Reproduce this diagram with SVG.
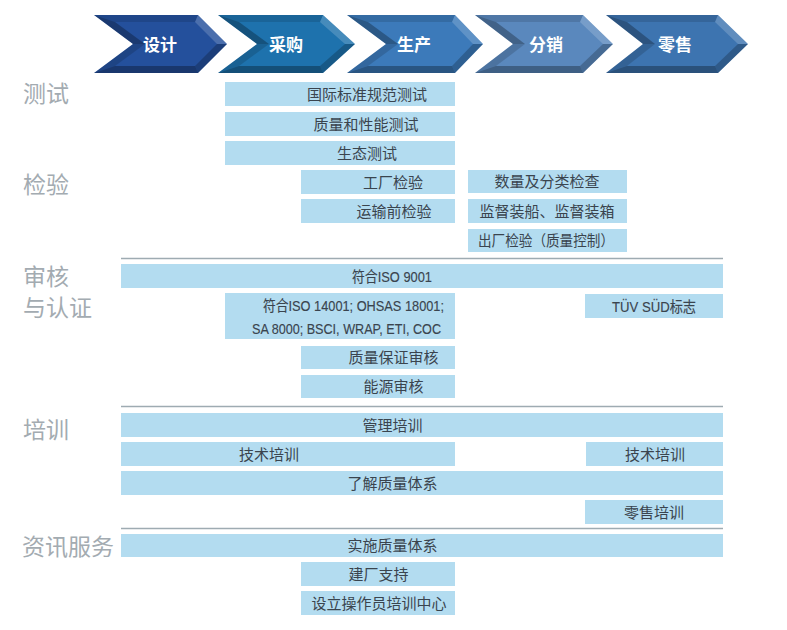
<svg xmlns="http://www.w3.org/2000/svg" width="787" height="630" viewBox="0 0 787 630">
<style>
.bar{fill:#b3dcf0}
.bt{font-family:"Noto Sans CJK SC","Noto Sans",sans-serif;font-size:15px;fill:#3a444e;text-anchor:middle}
.lt{font-family:"Liberation Sans Narrow","Liberation Sans","Noto Sans CJK SC",sans-serif;font-size:15px;fill:#3a444e;stroke:#3a444e;stroke-width:0.15;text-anchor:middle}
.lbl{font-family:"Noto Sans CJK SC","Noto Sans",sans-serif;font-size:23px;fill:#a3abb1}
.sep{stroke:#9eabb2;stroke-width:1.5;fill:none}
.ct{font-family:"Noto Sans CJK SC","Noto Sans",sans-serif;font-size:17px;font-weight:bold;fill:#ffffff;text-anchor:middle}
.dk{fill:#000}
.lg{fill:#fff}
</style>
<rect width="787" height="630" fill="#ffffff"/>

<g id="chevron-design">
<polygon points="94,15 198,15 227,44 198,73 94,73 133,44" fill="#24509c"/>
<polygon class="dk" opacity="0.12" points="94,15 198,15 195,22 115,22"/>
<polygon class="lg" opacity="0.18" points="198,15 227,44 217,44 195,22"/>
<polygon class="dk" opacity="0.22" points="227,44 198,73 195,66 217,44"/>
<polygon class="dk" opacity="0.3" points="198,73 94,73 115,66 195,66"/>
<polygon class="dk" opacity="0.15" points="94,73 133,44 145,44 115,66"/>
<polygon class="dk" opacity="0.28" points="133,44 94,15 115,22 145,44"/>
<text class="ct" x="160" y="51">设计</text>
</g>
<g id="chevron-purchase">
<polygon points="218,15 323,15 355,44 323,73 218,73 257,44" fill="#1e72ad"/>
<polygon class="dk" opacity="0.12" points="218,15 323,15 320,22 239,22"/>
<polygon class="lg" opacity="0.18" points="323,15 355,44 345,44 320,22"/>
<polygon class="dk" opacity="0.22" points="355,44 323,73 320,66 345,44"/>
<polygon class="dk" opacity="0.3" points="323,73 218,73 239,66 320,66"/>
<polygon class="dk" opacity="0.15" points="218,73 257,44 269,44 239,66"/>
<polygon class="dk" opacity="0.28" points="257,44 218,15 239,22 269,44"/>
<text class="ct" x="286" y="51">采购</text>
</g>
<g id="chevron-production">
<polygon points="347,15 455,15 483,44 455,73 347,73 386,44" fill="#3c7aba"/>
<polygon class="dk" opacity="0.12" points="347,15 455,15 452,22 368,22"/>
<polygon class="lg" opacity="0.18" points="455,15 483,44 473,44 452,22"/>
<polygon class="dk" opacity="0.22" points="483,44 455,73 452,66 473,44"/>
<polygon class="dk" opacity="0.3" points="455,73 347,73 368,66 452,66"/>
<polygon class="dk" opacity="0.15" points="347,73 386,44 398,44 368,66"/>
<polygon class="dk" opacity="0.28" points="386,44 347,15 368,22 398,44"/>
<text class="ct" x="414" y="51">生产</text>
</g>
<g id="chevron-distribution">
<polygon points="475,15 583,15 613,44 583,73 475,73 513,44" fill="#5a88bd"/>
<polygon class="dk" opacity="0.12" points="475,15 583,15 580,22 496,22"/>
<polygon class="lg" opacity="0.18" points="583,15 613,44 603,44 580,22"/>
<polygon class="dk" opacity="0.22" points="613,44 583,73 580,66 603,44"/>
<polygon class="dk" opacity="0.3" points="583,73 475,73 496,66 580,66"/>
<polygon class="dk" opacity="0.15" points="475,73 513,44 525,44 496,66"/>
<polygon class="dk" opacity="0.28" points="513,44 475,15 496,22 525,44"/>
<text class="ct" x="546" y="51">分销</text>
</g>
<g id="chevron-retail">
<polygon points="606,15 718,15 748,44 718,73 606,73 643,44" fill="#3d74b0"/>
<polygon class="dk" opacity="0.12" points="606,15 718,15 715,22 627,22"/>
<polygon class="lg" opacity="0.18" points="718,15 748,44 738,44 715,22"/>
<polygon class="dk" opacity="0.22" points="748,44 718,73 715,66 738,44"/>
<polygon class="dk" opacity="0.3" points="718,73 606,73 627,66 715,66"/>
<polygon class="dk" opacity="0.15" points="606,73 643,44 655,44 627,66"/>
<polygon class="dk" opacity="0.28" points="643,44 606,15 627,22 655,44"/>
<text class="ct" x="675" y="51">零售</text>
</g>

<g id="section-labels">
<text class="lbl" x="23" y="102">测试</text>
<text class="lbl" x="23" y="193">检验</text>
<text class="lbl" x="23" y="285">审核</text>
<text class="lbl" x="23" y="316">与认证</text>
<text class="lbl" x="23" y="438">培训</text>
<text class="lbl" x="22" y="555">资讯服务</text>
</g>

<g id="separators">
<line class="sep" x1="121" y1="258.5" x2="723" y2="258.5"/>
<line class="sep" x1="121" y1="406.5" x2="723" y2="406.5"/>
<line class="sep" x1="121" y1="528.5" x2="723" y2="528.5"/>
</g>

<g id="n1"><rect class="bar" x="225" y="82" width="230" height="24"/><text class="bt" x="367" y="100">国际标准规范测试</text></g>
<g id="n2"><rect class="bar" x="225" y="112" width="230" height="24"/><text class="bt" x="366" y="130">质量和性能测试</text></g>
<g id="n3"><rect class="bar" x="225" y="141" width="230" height="24"/><text class="bt" x="367" y="159">生态测试</text></g>
<g id="n4"><rect class="bar" x="301" y="170" width="154" height="24"/><text class="bt" x="393" y="188">工厂检验</text></g>
<g id="n5"><rect class="bar" x="301" y="199" width="154" height="24"/><text class="bt" x="394" y="217">运输前检验</text></g>
<g id="n6"><rect class="bar" x="468" y="170" width="159" height="23"/><text class="bt" x="547" y="187">数量及分类检查</text></g>
<g id="n7"><rect class="bar" x="468" y="199" width="159" height="24"/><text class="bt" x="547" y="217">监督装船、监督装箱</text></g>
<g id="n8"><rect class="bar" x="468" y="229" width="159" height="23"/><text class="bt" x="546" y="246" textLength="136" lengthAdjust="spacingAndGlyphs">出厂检验（质量控制）</text></g>
<g id="n9"><rect class="bar" x="121" y="264" width="602" height="24"/><text class="lt" x="392" y="281.5" textLength="80" lengthAdjust="spacingAndGlyphs">符合ISO 9001</text></g>
<g id="n10"><rect class="bar" x="225" y="293" width="230" height="46"/>
<text class="lt" x="353.5" y="311" textLength="181" lengthAdjust="spacingAndGlyphs">符合ISO 14001; OHSAS 18001;</text>
<text class="lt" x="346.5" y="334" textLength="189" lengthAdjust="spacingAndGlyphs">SA 8000; BSCI, WRAP, ETI, COC</text></g>
<g id="n11"><rect class="bar" x="585" y="294" width="138" height="24"/><text class="lt" x="654" y="311.5" textLength="84" lengthAdjust="spacingAndGlyphs">TÜV SÜD标志</text></g>
<g id="n12"><rect class="bar" x="301" y="346" width="154" height="23"/><text class="bt" x="393.5" y="363">质量保证审核</text></g>
<g id="n13"><rect class="bar" x="301" y="375" width="154" height="23"/><text class="bt" x="393.5" y="392">能源审核</text></g>
<g id="n14"><rect class="bar" x="121" y="413" width="602" height="24"/><text class="bt" x="392.5" y="431">管理培训</text></g>
<g id="n15"><rect class="bar" x="121" y="442" width="334" height="24"/><text class="bt" x="269" y="460">技术培训</text></g>
<g id="n16"><rect class="bar" x="586" y="442" width="137" height="24"/><text class="bt" x="655" y="460">技术培训</text></g>
<g id="n17"><rect class="bar" x="121" y="471" width="602" height="24"/><text class="bt" x="392.5" y="489">了解质量体系</text></g>
<g id="n18"><rect class="bar" x="585" y="500" width="138" height="24"/><text class="bt" x="654" y="518">零售培训</text></g>
<g id="n19"><rect class="bar" x="121" y="534" width="602" height="23"/><text class="bt" x="392.5" y="551">实施质量体系</text></g>
<g id="n20"><rect class="bar" x="301" y="562" width="154" height="24"/><text class="bt" x="378.5" y="580">建厂支持</text></g>
<g id="n21"><rect class="bar" x="301" y="591" width="154" height="24"/><text class="bt" x="379" y="609">设立操作员培训中心</text></g>
</svg>
